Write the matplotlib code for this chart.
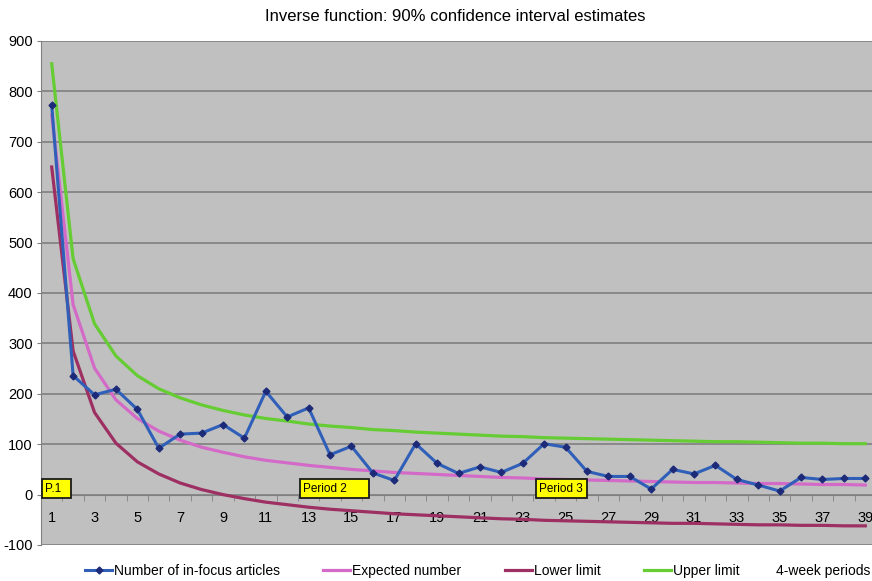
import numpy as np
import matplotlib.pyplot as plt
from matplotlib.patches import Rectangle

plt.rcParams['font.family'] = ['Liberation Sans', 'DejaVu Sans']
plt.rcParams['axes.unicode_minus'] = False

# 4-week periods
periods = list(range(1, 40))

articles = [773, 236, 198, 209, 169, 92, 120, 122, 139, 112,
            205, 154, 172, 79, 96, 43, 28, 101, 62, 42,
            55, 44, 62, 101, 94, 46, 36, 36, 11, 50,
            41, 58, 30, 19, 7, 34, 30, 32, 32]

expected = [753, 377, 251, 188, 151, 126, 108, 94, 84, 75,
            68, 63, 58, 54, 50, 47, 44, 42, 40, 38,
            36, 34, 33, 31, 30, 29, 28, 27, 26, 25,
            24, 24, 23, 22, 22, 21, 20, 20, 19]

lower = [650, 285, 163, 102, 65, 41, 23, 10, 0, -8,
         -15, -20, -25, -29, -32, -35, -38, -40, -42, -44,
         -46, -48, -49, -51, -52, -53, -54, -55, -56, -57,
         -57, -58, -59, -60, -60, -61, -61, -62, -62]

upper = [855, 468, 339, 275, 236, 210, 192, 178, 167, 158,
         151, 146, 140, 136, 133, 129, 127, 124, 122, 120,
         118, 116, 115, 113, 112, 111, 110, 109, 108, 107,
         106, 105, 105, 104, 103, 102, 102, 101, 101]

yticks = list(range(-100, 1000, 100))
# label boxes: (left, right, text)
period_boxes = [(0.53, 1.89, "P.1"), (12.6, 15.83, "Period 2"), (23.6, 25.99, "Period 3")]

fig = plt.figure(figsize=(8.72, 5.81), dpi=100)
ax = fig.add_axes([41/872, 36/581, 835/872, 504/581])
ax.set_facecolor('#c0c0c0')

ax.set_xlim(0.5, 39.5)
ax.set_ylim(-100, 900)
ax.set_yticks(yticks)
ax.yaxis.grid(True, color='#7a7a7a', linewidth=1.1)
ax.set_axisbelow(True)

ax.plot(periods, articles, color='#2f5fb8', lw=2.2, marker='D', ms=3.5,
        mfc='#1c2a78', mec='#1c2a78', label='Number of in-focus articles', zorder=5)
ax.plot(periods, expected, color='#d36ac8', lw=2.3, label='Expected number', zorder=3)
ax.plot(periods, lower, color='#9e2f62', lw=2.3, label='Lower limit', zorder=3)
ax.plot(periods, upper, color='#66cc33', lw=2.3, label='Upper limit', zorder=3)

# x axis crosses at zero, ticks between categories
ax.spines['bottom'].set_position(('data', 0))
ax.spines['bottom'].set_color('#808080')
ax.spines['left'].set_color('#808080')
ax.spines['top'].set_visible(False)
ax.spines['right'].set_visible(False)
ax.set_xticks(periods[::2])
ax.set_xticks(np.arange(0.5, 40, 1), minor=True)
ax.tick_params(axis='x', which='major', length=0, pad=12, labelsize=10.5)
ax.tick_params(axis='x', which='minor', length=4, color='#808080', direction='out')
ax.tick_params(axis='y', length=3, color='#808080', labelsize=10.5, pad=3)

for x0, x1, txt in period_boxes:
    ax.add_patch(Rectangle((x0, -6), x1 - x0, 36, fc='#ffff00', ec='#1a1a1a',
                           lw=1.3, zorder=6, clip_on=False))
    ax.text(x0 + 0.15, 12, txt, fontsize=8.5, ha='left', va='center', zorder=7)

fig.text(0.522, 0.971, 'Inverse function: 90% confidence interval estimates',
         ha='center', va='center', fontsize=12)
fig.legend(loc='center left', bbox_to_anchor=(85/872, 1 - 571/581), ncol=4,
           frameon=False, fontsize=10, handlelength=1.95, columnspacing=3.1,
           handletextpad=0.15, borderpad=0, borderaxespad=0)
fig.text(776/872, 1 - 571/581, '4-week periods', ha='left', va='center', fontsize=10)

fig.savefig('out.png', dpi=100)
